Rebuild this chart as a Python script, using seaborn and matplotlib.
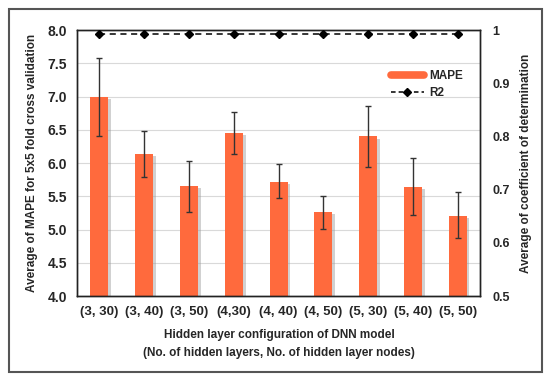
import numpy as np
import pandas as pd
import matplotlib
matplotlib.use("Agg")
import matplotlib.pyplot as plt
import matplotlib.patheffects as pe
from matplotlib.lines import Line2D
from matplotlib.patches import Rectangle
import seaborn as sns

# data
configs = ["(3, 30)", "(3, 40)", "(3, 50)", "(4,30)", "(4, 40)", "(4, 50)", "(5, 30)", "(5, 40)", "(5, 50)"]
mape = [7.00, 6.13, 5.65, 6.45, 5.72, 5.26, 6.40, 5.64, 5.21]
mape_low = [6.41, 5.79, 5.27, 6.13, 5.47, 5.01, 5.94, 5.22, 4.87]
mape_high = [7.58, 6.48, 6.03, 6.77, 5.98, 5.50, 6.85, 6.07, 5.57]
r2 = [0.992, 0.992, 0.992, 0.992, 0.992, 0.992, 0.992, 0.992, 0.992]

df = pd.DataFrame({"config": configs, "MAPE": mape, "R2": r2})

sns.set_style("white")
plt.rcParams["font.family"] = ["Liberation Sans", "DejaVu Sans"]
plt.rcParams["font.weight"] = "bold"

bar_color = "#FF6A3D"

fig = plt.figure(figsize=(5.5, 3.8), dpi=100)
ax = fig.add_axes([0.14, 0.221, 0.733, 0.70])

sns.barplot(data=df, x="config", y="MAPE", color=bar_color, width=0.4,
            saturation=1, linewidth=0, ax=ax, zorder=2)
for p in ax.patches:
    p.set_edgecolor("none")
    p.set_path_effects([pe.SimplePatchShadow(offset=(2, -1.5), shadow_rgbFace="#9a9a9a", alpha=0.45),
                        pe.Normal()])

x = np.arange(len(configs))
yerr = [np.array(mape) - np.array(mape_low), np.array(mape_high) - np.array(mape)]
ax.errorbar(x, mape, yerr=yerr, fmt="none", ecolor="#333333", elinewidth=1,
            capsize=2.5, capthick=1, zorder=3)

ax.set_ylim(4.0, 8.0)
ax.set_yticks(np.arange(4.0, 8.01, 0.5))
ax.set_yticklabels([f"{v:.1f}" for v in np.arange(4.0, 8.01, 0.5)], fontsize=10, fontweight="bold")
ax.set_xticks(x)
ax.set_xticklabels(configs, fontsize=9.5, fontweight="bold")
ax.tick_params(axis="both", length=0, pad=7)
ax.yaxis.grid(True, color="#d9d9d9", linewidth=0.8, zorder=0)
ax.set_axisbelow(True)
ax.set_xlim(-0.5, len(configs) - 0.5)
ax.set_xlabel("")
ax.set_ylabel("Average of MAPE for 5x5 fold cross validation", fontsize=8.5, fontweight="bold", labelpad=7)
for s in ax.spines.values():
    s.set_color("#222222")
    s.set_linewidth(1)

ax2 = ax.twinx()
ax2.plot(x, r2, linestyle=(0, (4, 3)), color="black", linewidth=1.1,
         marker="D", markersize=4, zorder=4)
ax2.set_ylim(0.5, 1.0)
r2_ticks = [0.5, 0.6, 0.7, 0.8, 0.9, 1.0]
ax2.set_yticks(r2_ticks)
ax2.set_yticklabels(["0.5", "0.6", "0.7", "0.8", "0.9", "1"], fontsize=9, fontweight="bold")
ax2.tick_params(axis="y", length=0, pad=9)
ax2.set_ylabel("Average of coefficient of determination", fontsize=8.5, fontweight="bold", labelpad=7)
for s in ax2.spines.values():
    s.set_color("#222222")
    s.set_linewidth(1)

handles = [Line2D([0], [0], color=bar_color, linewidth=5.5),
           Line2D([0], [0], color="black", linestyle=(0, (3, 2)), linewidth=1.1, marker="D", markersize=4)]
ax2.legend(handles, ["MAPE", "R2"], loc="upper right", bbox_to_anchor=(0.985, 0.89),
           frameon=False, prop={"size": 8.5, "weight": "bold"}, handlelength=2.8,
           handletextpad=0.5, labelspacing=0.45)

fig.text(0.508, 0.118, "Hidden layer configuration of DNN model", ha="center", va="center",
         fontsize=8.5, fontweight="bold")
fig.text(0.508, 0.070, "(No. of hidden layers, No. of hidden layer nodes)", ha="center", va="center",
         fontsize=8.5, fontweight="bold")

fig.patches.append(Rectangle((0.016, 0.021), 0.970, 0.955, transform=fig.transFigure,
                             fill=False, edgecolor="#555555", linewidth=1.5))

fig.savefig("out.png", dpi=100)
